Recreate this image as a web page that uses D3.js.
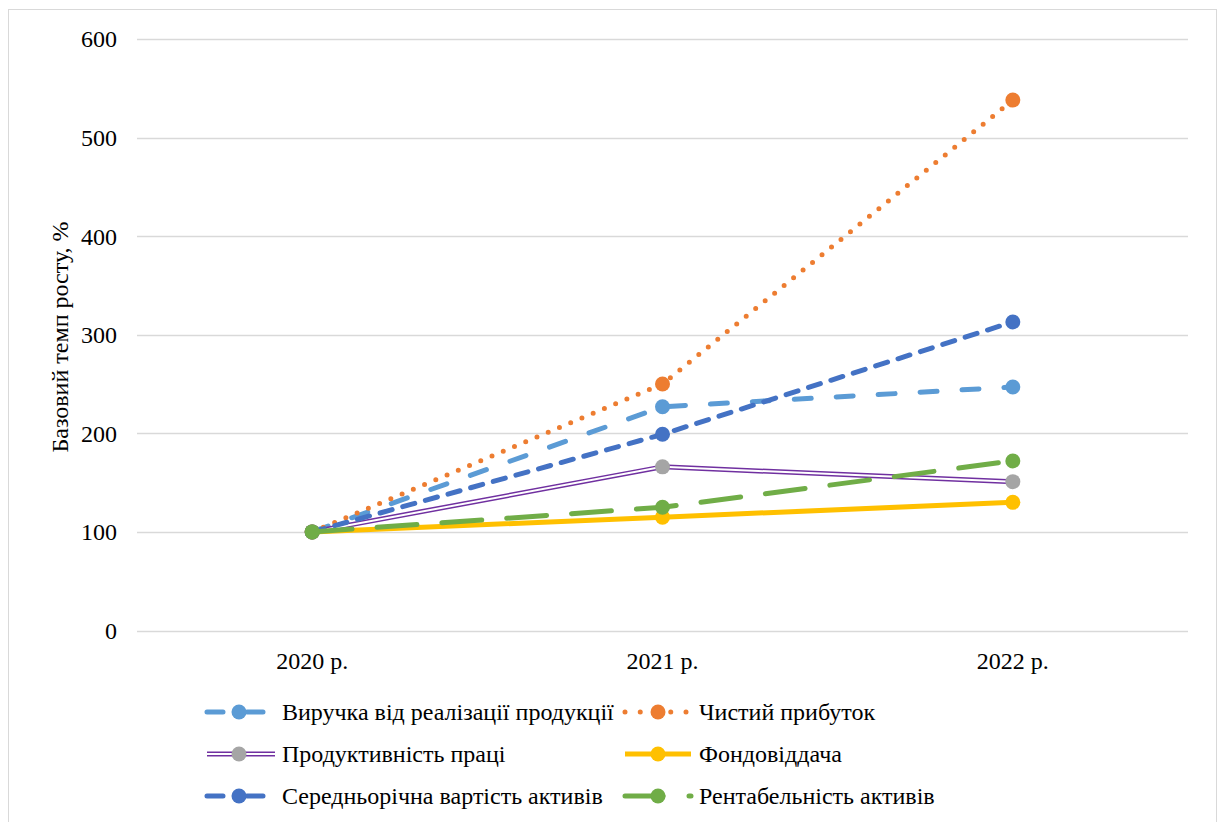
<!DOCTYPE html>
<html>
<head>
<meta charset="utf-8">
<script src="https://cdn.jsdelivr.net/npm/d3@7"></script>
<style>
    body { margin: 0; background: #fff; }
</style>
</head>
<body>
<div id="chart"></div>
<script>
// categories and values
const years = ["2020 р.", "2021 р.", "2022 р."];
const seriesNames = [
    "Виручка від реалізації продукції",
    "Чистий прибуток",
    "Продуктивність праці",
    "Фондовіддача",
    "Середньорічна вартість активів",
    "Рентабельність активів"
];
const revenue = [100, 227, 247];
const netProfit = [100, 250, 538];
const laborProductivity = [100, 166, 151];
const assetReturn = [100, 115, 130];
const avgAssets = [100, 199, 313];
const returnOnAssets = [100, 125, 172];
const yTicks = [0, 100, 200, 300, 400, 500, 600];

const width = 1219, height = 822;
const margin = {left: 137, right: 31, top: 39, bottom: 192};
const fontFamily = "Liberation Serif";
const fontSize = "24px";

// line styles, one per series
const styles = [
    {color: "#5B9BD5", dash: "17,25", legendDash: "16,24", markerFill: "#5B9BD5"},
    {color: "#ED7D31", dash: "0,12.2", legendDash: "0,15.25", markerFill: "#ED7D31"},
    {color: "#7030A0", dash: null, legendDash: null, double: true, markerFill: "#A5A5A5"},
    {color: "#FFC000", dash: null, legendDash: null, markerFill: "#FFC000"},
    {color: "#4472C4", dash: "12.5,11", legendDash: "16,24", markerFill: "#4472C4"},
    {color: "#70AD47", dash: "40,25", legendDash: "38,26", markerFill: "#70AD47"}
];

const allSeries = [revenue, netProfit, laborProductivity, assetReturn, avgAssets, returnOnAssets];
const data = seriesNames.map((name, i) => ({name: name, values: allSeries[i], style: styles[i]}));

let svg = d3.select("#chart")
    .append("svg")
    .attr("width", width)
    .attr("height", height);

// outer chart frame
svg.append("rect")
    .attr("x", 8.5)
    .attr("y", 9.5)
    .attr("width", 1208)
    .attr("height", 830)
    .attr("fill", "none")
    .attr("stroke", "#d9d9d9")
    .attr("stroke-width", 1);

let x = d3.scaleBand()
    .domain(years)
    .range([margin.left, width - margin.right]);

let y = d3.scaleLinear()
    .domain([0, 600])
    .range([height - margin.bottom + 0.5, margin.top]);

// gridlines
svg.append("g")
    .selectAll("line")
    .data(yTicks)
    .enter()
    .append("line")
    .attr("x1", margin.left)
    .attr("x2", width - margin.right)
    .attr("y1", d => Math.round(y(d)) + 0.5)
    .attr("y2", d => Math.round(y(d)) + 0.5)
    .attr("stroke", "#d9d9d9")
    .attr("stroke-width", 1.5);

// y tick labels
svg.append("g")
    .selectAll("text")
    .data(yTicks)
    .enter()
    .append("text")
    .attr("x", 117)
    .attr("y", d => y(d))
    .attr("dy", "0.35em")
    .attr("text-anchor", "end")
    .attr("font-family", fontFamily)
    .attr("font-size", fontSize)
    .text(d => d);

// x labels
svg.append("g")
    .selectAll("text")
    .data(years)
    .enter()
    .append("text")
    .attr("x", d => x(d) + x.bandwidth() / 2)
    .attr("y", 661)
    .attr("dy", "0.35em")
    .attr("text-anchor", "middle")
    .attr("font-family", fontFamily)
    .attr("font-size", fontSize)
    .text(d => d);

// y axis title
svg.append("text")
    .attr("transform", "translate(60, 337) rotate(-90)")
    .attr("dy", "0.35em")
    .attr("text-anchor", "middle")
    .attr("font-family", fontFamily)
    .attr("font-size", fontSize)
    .text("Базовий темп росту, %");

let line = d3.line()
    .x((d, i) => x(years[i]) + x.bandwidth() / 2)
    .y(d => y(d));

// draw series
let plot = svg.append("g");
data.forEach(s => {
    plot.append("path")
        .attr("d", line(s.values))
        .attr("fill", "none")
        .attr("stroke", s.style.color)
        .attr("stroke-width", 5)
        .attr("stroke-linecap", s.style.dash ? "round" : "butt")
        .attr("stroke-linejoin", "round")
        .attr("stroke-dasharray", s.style.dash);
    if (s.style.double) {
        plot.append("path")
            .attr("d", line(s.values))
            .attr("fill", "none")
            .attr("stroke", "#fff")
            .attr("stroke-width", 2);
    }
    plot.selectAll(null)
        .data(s.values)
        .enter()
        .append("circle")
        .attr("cx", (d, i) => x(years[i]) + x.bandwidth() / 2)
        .attr("cy", d => y(d))
        .attr("r", 7.5)
        .attr("fill", s.style.markerFill);
});

// legend
const legendCols = [207, 625];
const legendRows = [712, 754, 796];
let legend = svg.append("g");
data.forEach((s, i) => {
    let lx = legendCols[i % 2];
    let ly = legendRows[Math.floor(i / 2)];
    let len = i % 2 === 0 ? 68 : 66;
    let mx = i % 2 === 0 ? 239 : 658;
    let g = legend.append("g");
    g.append("line")
        .attr("x1", lx)
        .attr("x2", lx + len)
        .attr("y1", ly)
        .attr("y2", ly)
        .attr("stroke", s.style.color)
        .attr("stroke-width", 5)
        .attr("stroke-linecap", s.style.legendDash ? "round" : "butt")
        .attr("stroke-dasharray", s.style.legendDash);
    if (s.style.double) {
        g.append("line")
            .attr("x1", lx)
            .attr("x2", lx + len)
            .attr("y1", ly)
            .attr("y2", ly)
            .attr("stroke", "#fff")
            .attr("stroke-width", 2);
    }
    g.append("circle")
        .attr("cx", mx)
        .attr("cy", ly)
        .attr("r", 7.5)
        .attr("fill", s.style.markerFill);
    g.append("text")
        .attr("x", i % 2 === 0 ? 282 : 699)
        .attr("y", ly)
        .attr("dy", "0.35em")
        .attr("font-family", fontFamily)
        .attr("font-size", fontSize)
        .text(s.name);
});
</script>
</body>
</html>
